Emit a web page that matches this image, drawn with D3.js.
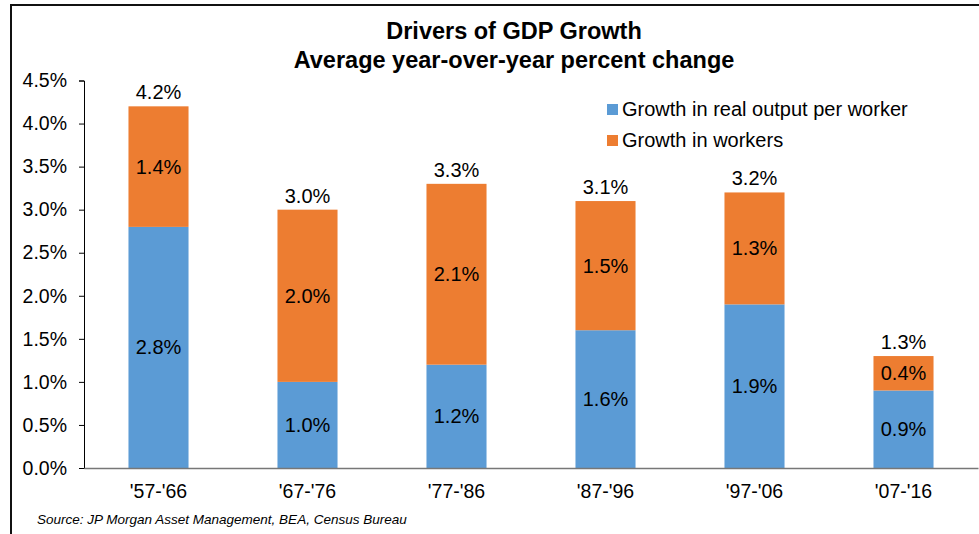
<!DOCTYPE html>
<html><head><meta charset="utf-8">
<script src="https://cdn.jsdelivr.net/npm/d3@7"></script>
<style>
html,body{margin:0;padding:0;background:#fff;}
svg{display:block;font-family:"Liberation Sans",Arial,sans-serif;}
</style></head>
<body>
<svg id="chart" width="979" height="534"></svg>
<script>
const categories = ["'57-'66","'67-'76","'77-'86","'87-'96","'97-'06","'07-'16"];
const outputPerWorker = [2.8, 1.0, 1.2, 1.6, 1.9, 0.9];
const workers = [1.4, 2.0, 2.1, 1.5, 1.3, 0.4];
const totals = [4.2, 3.0, 3.3, 3.1, 3.2, 1.3];
const yTicks = [0, 0.5, 1.0, 1.5, 2.0, 2.5, 3.0, 3.5, 4.0, 4.5];
const seriesNames = ["Growth in real output per worker", "Growth in workers"];
const colors = ["#5B9BD5", "#ED7D31"];

const svg = d3.select("#chart");

// frame
svg.append("path").attr("d", "M11,534 L11,5 L990,5")
  .attr("fill", "none").attr("stroke", "#111").attr("stroke-width", 2);

const x = d3.scaleBand().domain(categories).range([84, 978]).paddingInner(0.597).paddingOuter(0.2985);
const y = d3.scaleLinear().domain([0, 4.5]).range([468, 80.5]);

// title
svg.append("text").attr("x", 514).attr("y", 39).attr("text-anchor", "middle")
  .attr("font-size", 23.5).attr("font-weight", "bold").text("Drivers of GDP Growth");
svg.append("text").attr("x", 514).attr("y", 68).attr("text-anchor", "middle")
  .attr("font-size", 23.5).attr("font-weight", "bold").text("Average year-over-year percent change");

// y axis
const yAxis = d3.axisLeft(y).tickValues(yTicks).tickFormat(d => d.toFixed(1) + "%").tickSizeOuter(0).tickSize(5).tickPadding(12);
const gy = svg.append("g").attr("transform", "translate(84,0)").call(yAxis);
gy.selectAll("text").attr("font-size", 19.5).attr("fill", "#000").attr("font-family", "Liberation Sans, Arial, sans-serif");
gy.selectAll("line").attr("stroke", "#000");
gy.select(".domain").attr("stroke", "#000");

// bars
const stacked = categories.map((c, i) => ({c, b: outputPerWorker[i], o: workers[i], t: totals[i]}));
const g = svg.append("g");
stacked.forEach(d => {
  g.append("rect").attr("x", x(d.c)).attr("width", x.bandwidth())
    .attr("y", y(d.b)).attr("height", y(0) - y(d.b)).attr("fill", colors[0]);
  g.append("rect").attr("x", x(d.c)).attr("width", x.bandwidth())
    .attr("y", y(d.b + d.o)).attr("height", y(d.b) - y(d.b + d.o)).attr("fill", colors[1]);
  const cx = x(d.c) + x.bandwidth() / 2;
  g.append("text").attr("x", cx).attr("y", (y(0) + y(d.b)) / 2).attr("dy", "0.35em")
    .attr("text-anchor", "middle").attr("font-size", 20).text(d.b.toFixed(1) + "%");
  g.append("text").attr("x", cx).attr("y", (y(d.b) + y(d.b + d.o)) / 2).attr("dy", "0.35em")
    .attr("text-anchor", "middle").attr("font-size", 20).text(d.o.toFixed(1) + "%");
  g.append("text").attr("x", cx).attr("y", y(d.t) - 7)
    .attr("text-anchor", "middle").attr("font-size", 20).text(d.t.toFixed(1) + "%");
});

// x axis
const xAxis = d3.axisBottom(x).tickSize(0).tickPadding(16).tickSizeOuter(0);
const gx = svg.append("g").attr("transform", "translate(0,468)").call(xAxis);
gx.selectAll("text").attr("font-size", 19.5).attr("fill", "#000").attr("font-family", "Liberation Sans, Arial, sans-serif");
gx.select(".domain").attr("stroke", "#777").attr("stroke-width", 1.5);

// legend
const leg = svg.append("g");
seriesNames.forEach((n, i) => {
  leg.append("rect").attr("x", 607).attr("y", 104 + i * 31).attr("width", 11).attr("height", 11).attr("fill", colors[i]);
  leg.append("text").attr("x", 622).attr("y", 116 + i * 31).attr("font-size", 20).text(n);
});

// source
svg.append("text").attr("x", 37).attr("y", 524).attr("font-size", 13.5).attr("font-style", "italic")
  .text("Source:  JP Morgan Asset Management, BEA, Census Bureau");
</script>
</body></html>
